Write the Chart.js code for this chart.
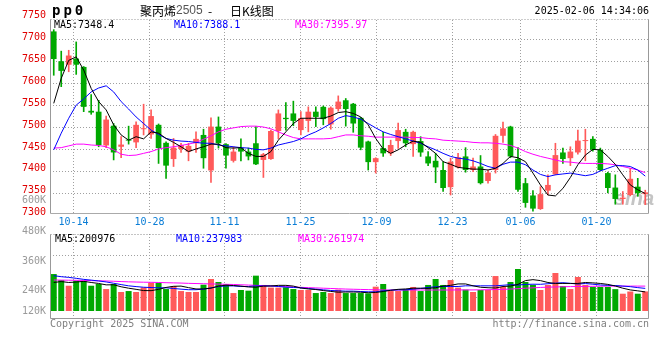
<!DOCTYPE html>
<html><head><meta charset="utf-8">
<script src="https://cdn.jsdelivr.net/npm/chart.js@4.4.1/dist/chart.umd.min.js"></script>
<style>
html,body{margin:0;padding:0;background:#fff;}
#wrap{position:relative;width:660px;height:360px;overflow:hidden;}
canvas{position:absolute;left:0;top:0;}
</style></head><body>
<div id="wrap"><canvas id="k" width="660" height="360"></canvas><canvas id="v" width="660" height="360"></canvas></div>
<script>
// ---------- data ----------
const dates = ['10-09','10-10','10-11','10-14','10-15','10-16','10-17','10-18','10-21','10-22','10-23','10-24','10-25','10-28','10-29','10-30','10-31',
'11-01','11-04','11-05','11-06','11-07','11-08','11-11','11-12','11-13','11-14','11-15','11-18','11-19','11-20','11-21','11-22','11-25','11-26','11-27','11-28','11-29',
'12-02','12-03','12-04','12-05','12-06','12-09','12-10','12-11','12-12','12-13','12-16','12-17','12-18','12-19','12-20','12-23','12-24','12-25','12-26','12-27','12-30','12-31',
'01-02','01-03','01-06','01-07','01-08','01-09','01-10','01-13','01-14','01-15','01-16','01-17','01-20','01-21','01-22','01-23','01-24','01-27',
'02-05','02-06'];
const opens  = [7718,7650,7642,7656,7637,7537,7535,7458,7503,7455,7471,7465,7495,7483,7505,7464,7427,7450,7444,7463,7482,7401,7501,7461,7423,7453,7444,7463,7425,7427,7491,7521,7531,7493,7514,7535,7546,7506,7541,7561,7553,7521,7467,7420,7452,7440,7468,7489,7461,7468,7433,7423,7402,7363,7408,7433,7402,7410,7377,7402,7480,7501,7427,7372,7344,7313,7355,7392,7442,7429,7442,7468,7473,7448,7395,7362,7336,7345,7364,7347];
const highs  = [7722,7673,7675,7694,7638,7574,7561,7525,7508,7478,7502,7512,7552,7539,7507,7466,7474,7463,7463,7489,7495,7521,7523,7462,7455,7473,7452,7501,7440,7493,7539,7556,7559,7535,7546,7546,7548,7546,7571,7565,7554,7522,7468,7430,7488,7470,7509,7495,7491,7478,7444,7440,7421,7429,7440,7453,7429,7435,7402,7483,7511,7502,7453,7383,7355,7364,7391,7463,7452,7455,7493,7495,7478,7452,7397,7391,7353,7406,7383,7356];
const lows   = [7618,7592,7626,7620,7535,7529,7455,7453,7425,7430,7461,7453,7482,7474,7417,7383,7410,7442,7423,7442,7406,7374,7452,7406,7420,7423,7425,7414,7385,7426,7473,7493,7503,7482,7489,7501,7505,7495,7536,7502,7488,7448,7402,7395,7433,7435,7451,7455,7433,7433,7412,7373,7353,7345,7406,7397,7398,7370,7372,7395,7465,7430,7353,7317,7308,7312,7345,7391,7417,7412,7438,7423,7445,7400,7350,7324,7324,7343,7342,7323];
const closes = [7655,7628,7663,7642,7546,7533,7459,7517,7442,7460,7469,7505,7497,7525,7452,7412,7453,7459,7457,7473,7429,7501,7463,7435,7444,7444,7433,7415,7438,7491,7531,7518,7514,7520,7535,7523,7518,7544,7558,7541,7508,7453,7420,7429,7440,7459,7493,7463,7489,7442,7417,7408,7361,7421,7431,7402,7410,7372,7396,7480,7497,7433,7357,7327,7314,7347,7368,7436,7427,7444,7469,7470,7448,7402,7361,7336,7339,7382,7349,7351];
const ma5  = [7554,7611,7652,7660,7630,7588,7558,7539,7505,7482,7470,7478,7473,7489,7486,7474,7465,7455,7444,7450,7455,7461,7461,7453,7452,7453,7440,7433,7433,7444,7470,7489,7508,7520,7520,7520,7520,7525,7533,7535,7531,7523,7505,7474,7450,7440,7448,7459,7468,7465,7453,7440,7421,7415,7408,7406,7404,7404,7402,7406,7417,7433,7430,7421,7395,7368,7345,7343,7360,7385,7414,7436,7449,7448,7433,7415,7391,7368,7357,7348.4];
const ma10 = [7448,7486,7520,7550,7564,7580,7589,7594,7580,7558,7541,7523,7508,7493,7483,7474,7470,7468,7467,7465,7463,7463,7459,7457,7455,7453,7452,7449,7448,7452,7459,7463,7467,7473,7482,7489,7498,7508,7520,7526,7523,7518,7508,7498,7489,7483,7478,7473,7468,7463,7455,7448,7440,7433,7429,7427,7423,7417,7410,7406,7415,7420,7420,7414,7402,7392,7387,7391,7393,7395,7392,7389,7392,7400,7406,7412,7412,7410,7402,7388.1];
const ma30 = [7452,7453,7457,7461,7461,7459,7458,7455,7448,7438,7435,7436,7440,7444,7450,7453,7455,7458,7461,7465,7472,7480,7489,7495,7498,7501,7502,7502,7500,7496,7489,7482,7476,7473,7473,7473,7473,7474,7478,7482,7482,7480,7479,7477,7477,7477,7477,7477,7476,7476,7474,7473,7470,7469,7468,7467,7465,7464,7464,7463,7461,7458,7452,7444,7438,7433,7429,7425,7421,7420,7418,7417,7417,7417,7416,7414,7410,7406,7402,7395.97];
const volumes = [389000,326000,266000,319000,316000,266000,284000,231000,284000,200000,210000,200000,249000,298000,298000,231000,263000,210000,200000,200000,277000,337000,305000,281000,189000,221000,214000,372000,274000,246000,246000,249000,231000,221000,221000,189000,200000,189000,225000,189000,189000,189000,186000,256000,284000,210000,210000,231000,253000,210000,274000,337000,274000,326000,246000,225000,200000,221000,221000,368000,253000,305000,442000,305000,274000,221000,274000,400000,263000,231000,358000,274000,253000,253000,253000,230000,182000,205000,182000,206000];
const volMa5  = [300000,310000,300000,305000,312000,300000,290000,275000,276000,255000,240000,228000,215000,214000,228000,248000,260000,262000,246000,232000,232000,240000,262000,272000,268000,262000,253000,250000,262000,263000,270000,270000,262000,242000,232000,226000,215000,206000,198000,200000,200000,198000,192000,195000,205000,218000,228000,232000,240000,240000,238000,245000,262000,270000,285000,285000,265000,250000,245000,242000,258000,262000,280000,320000,330000,320000,300000,290000,290000,290000,290000,300000,296000,290000,280000,263000,240000,222000,212000,200976];
const volMa10 = [372000,361000,354000,344000,333000,325000,316000,306000,292000,278000,265000,257000,250000,247000,244000,244000,237000,230000,224000,224000,230000,244000,257000,264000,264000,258000,258000,264000,264000,264000,258000,251000,248000,244000,237000,230000,223000,216000,212000,209000,209000,205000,202000,202000,212000,219000,223000,223000,230000,237000,248000,255000,258000,258000,258000,265000,265000,265000,265000,265000,271000,277000,273000,280000,282000,281000,287000,293000,298000,291000,284000,289000,282000,274000,270000,268000,262000,256000,246000,237983];
const volMa30 = [326000,325000,324000,323000,322000,320000,318000,316000,313000,310000,307000,305000,303000,302000,300000,298000,296000,294000,291000,289000,287000,285000,283000,281000,279000,276000,273000,270000,267000,264000,260000,257000,253000,249000,246000,243000,240000,237000,234000,231000,229000,227000,225000,223000,222000,221000,221000,221000,221000,221000,221000,221000,221000,221000,222000,222000,222000,223000,224000,226000,228000,231000,235000,240000,244000,248000,251000,253000,255000,257000,258000,259000,260000,261000,262000,262000,262000,262000,262000,261974];
const xTickLabels = ['10-14','10-28','11-11','11-25','12-09','12-23','01-06','01-20'];
const priceTicks = [7300,7350,7400,7450,7500,7550,7600,7650,7700,7750];
const volTickLabels = ['600K','480K','360K','240K','120K'];
const priceLegend = ['MA5:7348.4','MA10:7388.1','MA30:7395.97'];
const volLegend = ['MA5:200976','MA10:237983','MA30:261974'];

// ---------- styles ----------
const RED = '#ff5a5a', GREEN = '#00a800';
const MONO = '10px "DejaVu Sans Mono", monospace';
const candleColor = closes.map((c, i) => c >= opens[i] ? RED : GREEN);

function dotted(ctx, x1, y1, x2, y2, color) {
  ctx.save();
  ctx.strokeStyle = color || '#a0a0a0';
  ctx.lineWidth = 1;
  ctx.setLineDash([1, 2]);
  ctx.beginPath(); ctx.moveTo(x1, y1); ctx.lineTo(x2, y2); ctx.stroke();
  ctx.restore();
}
function solid(ctx, x1, y1, x2, y2, color) {
  ctx.save();
  ctx.strokeStyle = color || '#999';
  ctx.lineWidth = 1;
  ctx.beginPath(); ctx.moveTo(x1, y1); ctx.lineTo(x2, y2); ctx.stroke();
  ctx.restore();
}
// date grid uses the auxiliary index axis (first day at the left edge, last at the right edge)
function gridX(chart) {
  const g = chart.scales.gx;
  return xTickLabels.map(t => Math.round(g.getPixelForValue(dates.indexOf(t))) + 0.5);
}

const pricePlugin = {
  id: 'pricePlugin',
  beforeDatasetsDraw(chart) {
    const { ctx, chartArea: a, scales: { y } } = chart;
    priceTicks.forEach(p => {
      if (p <= 7300 || p >= 7750) return;
      const yy = Math.round(y.getPixelForValue(p)) + 0.5;
      dotted(ctx, a.left, yy, a.right, yy);
    });
    gridX(chart).forEach(xx => dotted(ctx, xx, a.top, xx, a.bottom));
    ctx.save();
    ctx.font = 'italic bold 20px "Liberation Sans", Arial';
    ctx.fillStyle = '#c4c4c4';
    ctx.textBaseline = 'alphabetic';
    ctx.fillText('sina', 614, 205);
    ctx.restore();
  },
  afterDatasetsDraw(chart) {
    const { ctx, chartArea: a, scales: { y } } = chart;
    const L = Math.floor(a.left) + 0.5, R = Math.floor(a.right) - 0.5;
    const T = Math.floor(a.top) - 0.5, B = Math.floor(a.bottom) + 0.5;
    dotted(ctx, L, T, R, T, '#999');
    solid(ctx, L, T, L, B, '#999');
    solid(ctx, R, T, R, B, '#999');
    solid(ctx, L, B, R, B, '#aaa');
    ctx.save();
    ctx.font = MONO;
    ctx.textBaseline = 'middle';
    ctx.fillStyle = '#e00000';
    ctx.textAlign = 'right';
    priceTicks.forEach(p => ctx.fillText(String(p), 46, y.getPixelForValue(p) - 2));
    ctx.fillStyle = '#0a7dd6';
    ctx.textAlign = 'center';
    gridX(chart).forEach((xx, i) => ctx.fillText(xTickLabels[i], xx, a.bottom + 9));
    ctx.textAlign = 'left';
    const lc = ['#000000', '#0000ff', '#ff00ff'];
    const lx = [54, 174, 295];
    priceLegend.forEach((t, i) => { ctx.fillStyle = lc[i]; ctx.fillText(t, lx[i], a.top + 5); });
    ctx.fillStyle = '#000';
    ctx.font = 'bold 14px "DejaVu Sans Mono", monospace';
    if ('letterSpacing' in ctx) ctx.letterSpacing = '3px';
    ctx.fillText('pp0', 52, 11);
    if ('letterSpacing' in ctx) ctx.letterSpacing = '0px';
    ctx.font = '12px "Noto Sans CJK SC"';
    ctx.fillText('聚丙烯', 140, 11);
    ctx.fillStyle = '#555';
    ctx.font = '12px "Liberation Sans", Arial';
    ctx.fillText('2505', 176, 11);
    ctx.fillStyle = '#000';
    ctx.font = '12px "Noto Sans CJK SC"';
    ctx.fillText('-', 208, 11);
    ctx.fillText('日K线图', 230, 11);
    ctx.font = MONO;
    ctx.textAlign = 'right';
    ctx.fillText('2025-02-06 14:34:06', 649, 11);
    ctx.restore();
  }
};

const volPlugin = {
  id: 'volPlugin',
  beforeDatasetsDraw(chart) {
    const { ctx, chartArea: a } = chart;
    const h = a.bottom - a.top;
    [0.25, 0.5, 0.75].forEach(f => {
      const yy = Math.round(a.top + h * f) + 0.5;
      dotted(ctx, a.left, yy, a.right, yy);
    });
    gridX(chart).forEach(xx => dotted(ctx, xx, a.top, xx, a.bottom));
  },
  afterDatasetsDraw(chart) {
    const { ctx, chartArea: a } = chart;
    const L = Math.floor(a.left) + 0.5, R = Math.floor(a.right) - 0.5;
    const T = Math.floor(a.top) + 0.5, B = Math.floor(a.bottom) + 0.5;
    dotted(ctx, L, T, R, T, '#888');
    solid(ctx, L, T, L, B, '#999');
    solid(ctx, R, T, R, B, '#999');
    solid(ctx, L, B, R, B, '#999');
    ctx.save();
    ctx.font = MONO;
    ctx.textBaseline = 'middle';
    ctx.textAlign = 'right';
    ctx.fillStyle = '#9a9a9a';
    const off = [-34, -3, 27, 56, 77];
    volTickLabels.forEach((t, i) => ctx.fillText(t, 46, a.top + off[i]));
    ctx.textAlign = 'left';
    const lc = ['#000000', '#0000ff', '#ff00ff'];
    const lx = [55, 176, 298];
    volLegend.forEach((t, i) => { ctx.fillStyle = lc[i]; ctx.fillText(t, lx[i], a.top + 5); });
    ctx.fillStyle = '#808080';
    ctx.fillText('Copyright 2025 SINA.COM', 50, a.bottom + 6);
    ctx.textAlign = 'right';
    ctx.fillText('http://finance.sina.com.cn', 649, a.bottom + 6);
    ctx.restore();
  }
};

const lineDs = (data, color) => ({ type: 'line', data, borderColor: color, borderWidth: 1, pointRadius: 0, tension: 0, fill: false, order: 1, spanGaps: true });

Chart.defaults.font.family = '"DejaVu Sans Mono", monospace';

const gxAxis = () => ({ type: 'linear', axis: 'x', display: false, offset: false, grace: 0, bounds: 'data', min: 0, max: dates.length - 1 });

new Chart(document.getElementById('k'), {
  type: 'bar',
  data: {
    labels: dates,
    datasets: [
      lineDs(ma5, '#000000'),
      lineDs(ma10, '#0000ff'),
      lineDs(ma30, '#ff00ff'),
      { data: opens.map((o, i) => [Math.min(o, closes[i]), Math.max(o, closes[i])]), backgroundColor: candleColor,
        barPercentage: 0.76, categoryPercentage: 1, grouped: false, minBarLength: 1, order: 2, borderWidth: 0 },
      { data: lows.map((l, i) => [l, highs[i]]), backgroundColor: candleColor,
        barThickness: 1, grouped: false, order: 3, borderWidth: 0 }
    ]
  },
  options: {
    responsive: false, animation: false, events: [],
    layout: { padding: { left: 50, right: 11, top: 20, bottom: 147 } },
    plugins: { legend: { display: false }, tooltip: { enabled: false } },
    scales: {
      x: { display: false, offset: true },
      gx: gxAxis(),
      y: { display: false, min: 7304, max: 7744 }
    }
  },
  plugins: [pricePlugin]
});

new Chart(document.getElementById('v'), {
  type: 'bar',
  data: {
    labels: dates,
    datasets: [
      lineDs(volMa5, '#000000'),
      lineDs(volMa10, '#0000ff'),
      lineDs(volMa30, '#ff00ff'),
      { data: volumes, backgroundColor: candleColor, barPercentage: 0.8, categoryPercentage: 1, grouped: false, order: 2, borderWidth: 0 }
    ]
  },
  options: {
    responsive: false, animation: false, events: [],
    layout: { padding: { left: 50, right: 11, top: 234, bottom: 42 } },
    plugins: { legend: { display: false }, tooltip: { enabled: false } },
    scales: {
      x: { display: false, offset: true },
      gx: gxAxis(),
      y: { display: false, min: -73700, max: 810500 }
    }
  },
  plugins: [volPlugin]
});
</script>
</body></html>
